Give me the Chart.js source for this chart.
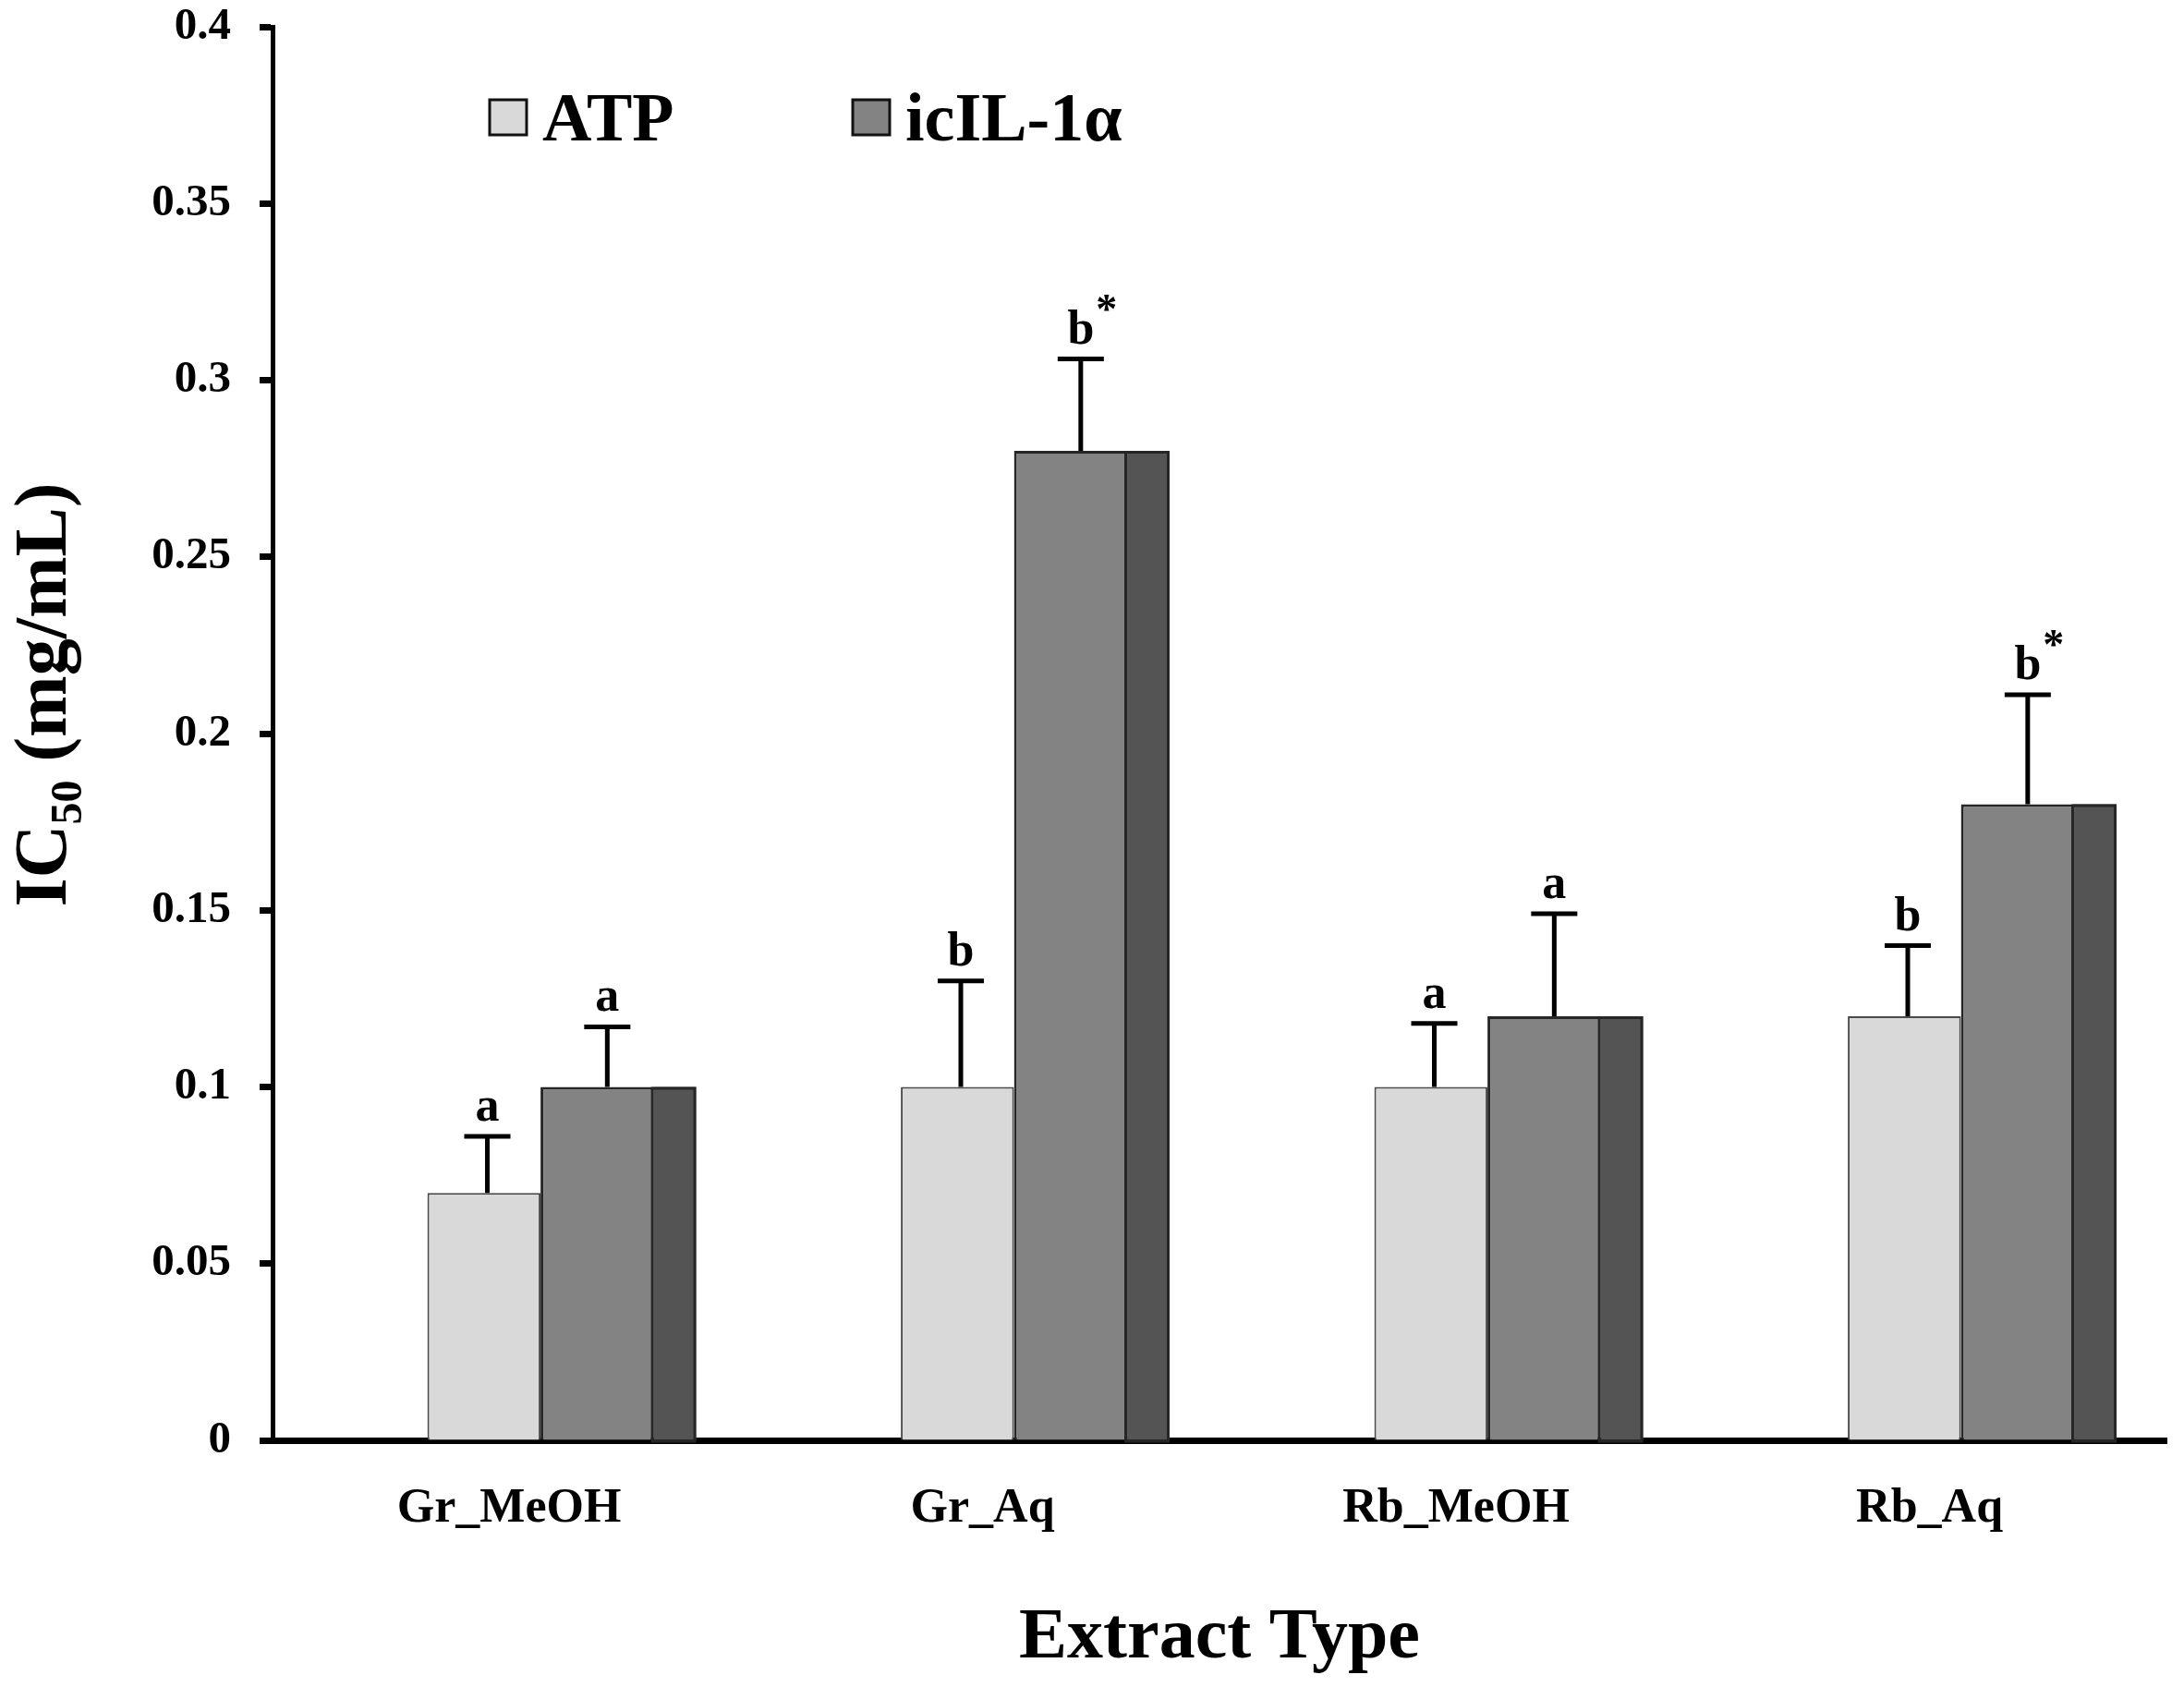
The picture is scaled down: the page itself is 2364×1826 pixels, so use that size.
<!DOCTYPE html>
<html>
<head>
<meta charset="utf-8">
<script src="https://cdn.jsdelivr.net/npm/chart.js@4.4.1/dist/chart.umd.min.js"></script>
<style>
  html, body { margin: 0; padding: 0; background: #fff; }
  #wrap { width: 2364px; height: 1826px; position: relative; }
</style>
</head>
<body>
<div id="wrap"><canvas id="ic50Chart"></canvas></div>
<script>
const categories = ['Gr_MeOH', 'Gr_Aq', 'Rb_MeOH', 'Rb_Aq'];
const seriesNames = ['ATP', 'icIL-1α'];
const atpValues = [0.07, 0.10, 0.10, 0.12];
const atpErrors = [0.016, 0.030, 0.018, 0.020];
const atpLetters = ['a', 'b', 'a', 'b'];
const ilValues = [0.10, 0.28, 0.12, 0.18];
const ilErrors = [0.017, 0.026, 0.029, 0.031];
const ilLetters = ['a', 'b*', 'a', 'b*'];
const yTicks = [0, 0.05, 0.1, 0.15, 0.2, 0.25, 0.3, 0.35, 0.4];

const FONT = '"Liberation Serif", "Times New Roman", serif';
const atpColor = '#d9d9d9';
const ilColor = '#838383';
const shadeColor = '#545454';

const toPoints = vals => vals.map((v, i) => ({ x: i, y: v }));

// error bars, significance letters, side shade of icIL bars, legend and y title
const extras = {
    id: 'extras',
    afterDatasetsDraw(chart) {
        const ctx = chart.ctx;
        const yScale = chart.scales.y;
        ctx.save();

        // dark side strip next to each icIL-1α bar
        chart.getDatasetMeta(1).data.forEach(bar => {
            const x0 = bar.x + bar.width / 2;
            const sw = bar.width * 0.375;
            ctx.fillStyle = shadeColor;
            ctx.fillRect(x0, bar.y, sw, bar.base - bar.y);
            ctx.strokeStyle = '#262626';
            ctx.lineWidth = 3;
            ctx.strokeRect(x0 - 1.5, bar.y + 1.5, sw, bar.base - bar.y);
        });

        const series = [
            { vals: atpValues, errs: atpErrors, letters: atpLetters, shift: 0.03 },
            { vals: ilValues, errs: ilErrors, letters: ilLetters, shift: 0.09 }
        ];
        series.forEach((s, di) => {
            chart.getDatasetMeta(di).data.forEach((bar, i) => {
                const x = bar.x + bar.width * s.shift;
                const yTop = yScale.getPixelForValue(s.vals[i] + s.errs[i]);
                ctx.strokeStyle = '#000';
                ctx.lineWidth = 5;
                ctx.beginPath();
                ctx.moveTo(x, bar.y);
                ctx.lineTo(x, yTop);
                ctx.moveTo(x - 25, yTop);
                ctx.lineTo(x + 25, yTop);
                ctx.stroke();

                const letter = s.letters[i].replace('*', '');
                const star = s.letters[i].includes('*');
                const base = yTop - 17;
                ctx.fillStyle = '#000';
                ctx.font = 'bold 52px ' + FONT;
                ctx.textAlign = 'center';
                ctx.textBaseline = 'alphabetic';
                ctx.fillText(letter, x, base);
                if (star) {
                    const lw = ctx.measureText(letter).width;
                    ctx.font = 'bold 46px ' + FONT;
                    ctx.textAlign = 'left';
                    ctx.fillText('*', x + lw / 2 + 2, base - 22);
                }
            });
        });
        ctx.restore();
    },
    afterDraw(chart) {
        const ctx = chart.ctx;
        ctx.save();

        // legend
        const boxX = [530, 923];
        const fills = [atpColor, ilColor];
        seriesNames.forEach((name, i) => {
            ctx.fillStyle = fills[i];
            ctx.fillRect(boxX[i], 108, 40, 38);
            ctx.strokeStyle = '#111';
            ctx.lineWidth = 3;
            ctx.strokeRect(boxX[i], 108, 40, 38);
            ctx.fillStyle = '#000';
            ctx.font = 'bold 74px ' + FONT;
            ctx.textAlign = 'left';
            ctx.textBaseline = 'alphabetic';
            ctx.fillText(name, boxX[i] + 57, 152);
        });

        // y axis title with subscript
        const big = 'bold 80px ' + FONT;
        const small = 'bold 48px ' + FONT;
        ctx.font = big;
        const w1 = ctx.measureText('IC').width;
        const w3 = ctx.measureText(' (mg/mL)').width;
        ctx.font = small;
        const w2 = ctx.measureText('50').width;
        const total = w1 + w2 + w3;
        ctx.translate(71, 752);
        ctx.rotate(-Math.PI / 2);
        ctx.fillStyle = '#000';
        ctx.textAlign = 'left';
        ctx.textBaseline = 'alphabetic';
        let cx = -total / 2;
        ctx.font = big;
        ctx.fillText('IC', cx, 0);
        cx += w1;
        ctx.font = small;
        ctx.fillText('50', cx, 17);
        cx += w2;
        ctx.font = big;
        ctx.fillText(' (mg/mL)', cx, 0);
        ctx.restore();
    }
};

new Chart(document.getElementById('ic50Chart').getContext('2d'), {
    type: 'bar',
    data: {
        datasets: [
            { label: seriesNames[0], data: toPoints(atpValues), backgroundColor: atpColor, borderColor: '#4a4a4a', borderWidth: 2, borderSkipped: 'bottom' },
            { label: seriesNames[1], data: toPoints(ilValues), backgroundColor: ilColor, borderColor: '#262626', borderWidth: 3, borderSkipped: 'bottom' }
        ]
    },
    options: {
        responsive: true,
        maintainAspectRatio: false,
        animation: false,
        devicePixelRatio: 1,
        datasets: { bar: { categoryPercentage: 0.478, barPercentage: 1 } },
        layout: { padding: { top: 29, right: 19, bottom: 0, left: 0 } },
        plugins: { legend: { display: false }, tooltip: { enabled: false } },
        scales: {
            x: {
                type: 'linear',
                min: -0.566,
                max: 3.434,
                offset: false,
                afterBuildTicks: axis => { axis.ticks = categories.map((c, i) => ({ value: i })); },
                afterFit: axis => { axis.height = 267; },
                ticks: {
                    callback: val => categories[val],
                    labelOffset: -34,
                    padding: 49,
                    autoSkip: false,
                    maxRotation: 0,
                    color: '#000',
                    font: { family: FONT, size: 52, weight: 'bold', lineHeight: 1 }
                },
                grid: { display: false, drawTicks: false },
                border: { color: '#000', width: 7 },
                title: {
                    display: true,
                    text: 'Extract Type',
                    color: '#000',
                    font: { family: FONT, size: 78, weight: 'bold', lineHeight: 1 },
                    padding: { top: 0, bottom: 13 }
                }
            },
            y: {
                min: 0,
                max: 0.4,
                afterBuildTicks: axis => { axis.ticks = yTicks.map(v => ({ value: v })); },
                afterFit: axis => { axis.width = 295; axis.paddingTop = 0; },
                ticks: {
                    callback: val => String(+val.toFixed(2)),
                    padding: 31,
                    color: '#000',
                    font: { family: FONT, size: 49, weight: 'bold', lineHeight: 1 }
                },
                grid: { drawOnChartArea: false, drawTicks: true, tickLength: 14, tickWidth: 7, tickColor: '#000' },
                border: { color: '#000', width: 5 }
            }
        }
    },
    plugins: [extras]
});
</script>
</body>
</html>
